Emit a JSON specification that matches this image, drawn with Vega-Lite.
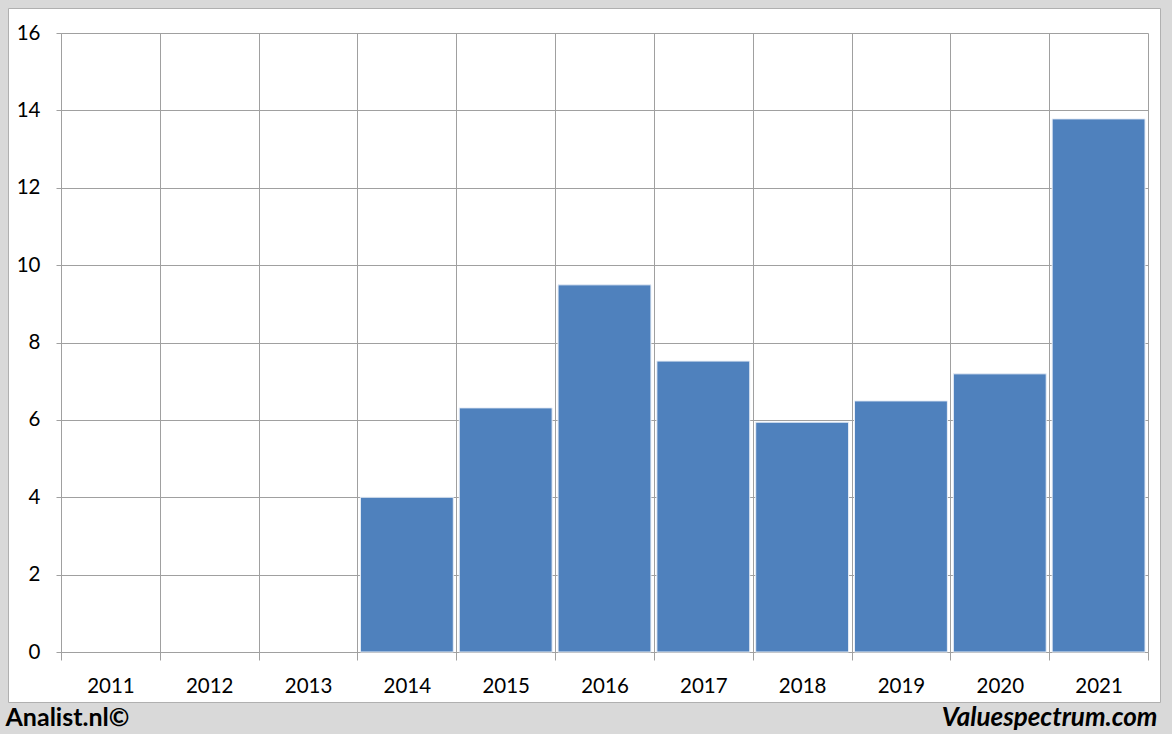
{
  "$schema": "https://vega.github.io/schema/vega-lite/v6.json",
  "width": 1152,
  "height": 694,
  "autosize": {"type": "none"},
  "padding": {"left": 8, "top": 8, "right": 12, "bottom": 32},
  "background": "#d9d9d9",
  "config": {
    "view": {"fill": "white", "stroke": "#b0b0b0", "strokeWidth": 1},
    "font": "Lato"
  },
  "data": {
    "values": [
      {"year": "2011", "value": null},
      {"year": "2012", "value": null},
      {"year": "2013", "value": null},
      {"year": "2014", "value": 4.0},
      {"year": "2015", "value": 6.31},
      {"year": "2016", "value": 9.49},
      {"year": "2017", "value": 7.52},
      {"year": "2018", "value": 5.94},
      {"year": "2019", "value": 6.49},
      {"year": "2020", "value": 7.19},
      {"year": "2021", "value": 13.78}
    ]
  },
  "mark": {
    "type": "bar",
    "width": {"band": 0.94},
    "color": "#4f81bd",
    "stroke": "#e8eef7",
    "strokeWidth": 1
  },
  "encoding": {
    "x": {
      "field": "year",
      "type": "ordinal",
      "scale": {
        "domain": ["2011", "2012", "2013", "2014", "2015", "2016", "2017", "2018", "2019", "2020", "2021"],
        "range": [53, 1140],
        "paddingInner": 0,
        "paddingOuter": 0
      },
      "axis": {
        "orient": "top",
        "offset": -644,
        "grid": true,
        "tickBand": "extent",
        "gridColor": "#a0a0a0",
        "tickColor": "#a0a0a0",
        "domainColor": "#a0a0a0",
        "tickSize": -8,
        "labelAngle": 0,
        "labelFont": "Lato",
        "labelFontSize": 20.5,
        "labelColor": "#000000",
        "labelPadding": -32,
        "labelBaseline": "alphabetic",
        "title": "Valuespectrum.com",
        "titleX": 1149,
        "titleY": 73,
        "titleAlign": "right",
        "titleBaseline": "alphabetic",
        "titleFont": "Lato",
        "titleFontSize": 26,
        "titleFontStyle": "italic",
        "titleFontWeight": "bold",
        "titleColor": "#000000"
      }
    },
    "y": {
      "field": "value",
      "type": "quantitative",
      "scale": {"domain": [0, 16], "range": [644, 25], "nice": false, "zero": true},
      "axis": {
        "values": [0, 2, 4, 6, 8, 10, 12, 14, 16],
        "offset": -53,
        "grid": true,
        "gridColor": "#a0a0a0",
        "tickColor": "#a0a0a0",
        "domainColor": "#a0a0a0",
        "tickSize": 5,
        "labelFont": "Lato",
        "labelFontSize": 20.5,
        "labelColor": "#000000",
        "labelPadding": 16,
        "labelFlush": false,
        "labelOverlap": false,
        "title": "Analist.nl©",
        "titleAngle": 0,
        "titleX": -56,
        "titleY": 717,
        "titleAlign": "left",
        "titleBaseline": "alphabetic",
        "titleFont": "Lato",
        "titleFontSize": 25,
        "titleFontWeight": "bold",
        "titleColor": "#000000"
      }
    }
  }
}
